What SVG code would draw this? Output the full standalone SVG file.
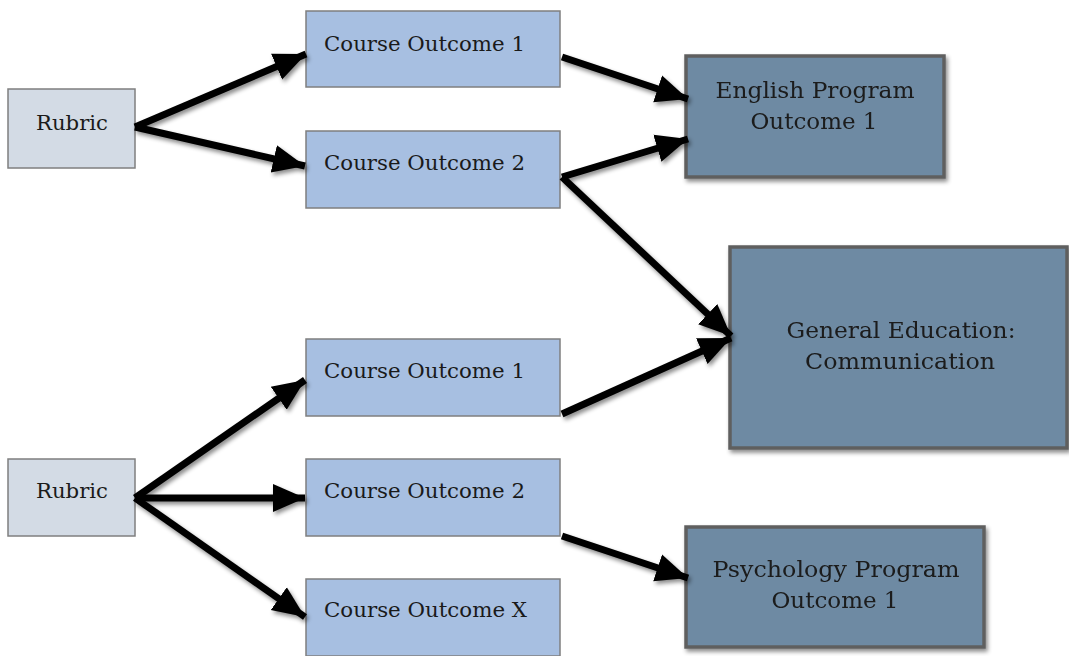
<svg xmlns="http://www.w3.org/2000/svg" width="1069" height="656" viewBox="0 0 1069 656">
<defs>
<style>
.rub{fill:#d3dbe5;stroke:#7f7f7f;stroke-width:1.5}
.co{fill:#a7bfe1;stroke:#7f7f7f;stroke-width:1.5}
.prog{fill:#6e8aa3;stroke:#5f5f5f;stroke-width:3.5}
text{font-family:"DejaVu Serif","Liberation Serif",serif;fill:#1a1a1a}
.t{font-size:20px}
.p{font-size:22px;text-anchor:middle}
.c line{stroke:#000;stroke-width:7;marker-end:url(#ah)}
</style>
<marker id="ah" markerUnits="userSpaceOnUse" markerWidth="34" markerHeight="32" viewBox="0 0 34 32" refX="32" refY="16" orient="auto">
<path d="M0,2 L32,16 L0,30 Z" fill="#000"/>
</marker>
<filter id="sh" x="-20%" y="-20%" width="140%" height="140%">
<feDropShadow dx="2" dy="3" stdDeviation="2" flood-color="#000" flood-opacity="0.45"/>
</filter>
</defs>
<rect width="1069" height="656" fill="#fff"/>
<g id="rubric1"><rect class="rub" x="8" y="89" width="127" height="79"/><text class="t" x="36" y="130" textLength="72" lengthAdjust="spacingAndGlyphs">Rubric</text></g>
<g id="rubric2"><rect class="rub" x="8" y="459" width="127" height="77"/><text class="t" x="36" y="498" textLength="72" lengthAdjust="spacingAndGlyphs">Rubric</text></g>
<g id="co1a"><rect class="co" x="306" y="11" width="254" height="76"/><text class="t" x="324" y="51" textLength="201" lengthAdjust="spacingAndGlyphs">Course Outcome 1</text></g>
<g id="co2a"><rect class="co" x="306" y="131" width="254" height="77"/><text class="t" x="324" y="170" textLength="201" lengthAdjust="spacingAndGlyphs">Course Outcome 2</text></g>
<g id="co1b"><rect class="co" x="306" y="339" width="254" height="77"/><text class="t" x="324" y="378" textLength="201" lengthAdjust="spacingAndGlyphs">Course Outcome 1</text></g>
<g id="co2b"><rect class="co" x="306" y="459" width="254" height="77"/><text class="t" x="324" y="498" textLength="201" lengthAdjust="spacingAndGlyphs">Course Outcome 2</text></g>
<g id="coxb"><rect class="co" x="306" y="579" width="254" height="77"/><text class="t" x="324" y="617" textLength="203" lengthAdjust="spacingAndGlyphs">Course Outcome X</text></g>
<g id="english" filter="url(#sh)"><rect class="prog" x="686" y="56" width="258" height="121"/><text class="p" x="815" y="98" textLength="199" lengthAdjust="spacingAndGlyphs">English Program</text><text class="p" x="814" y="129" textLength="127" lengthAdjust="spacingAndGlyphs">Outcome 1</text></g>
<g id="gened" filter="url(#sh)"><rect class="prog" x="730" y="247" width="337" height="201"/><text class="p" x="901" y="338" textLength="229" lengthAdjust="spacingAndGlyphs">General Education:</text><text class="p" x="900" y="369" textLength="190" lengthAdjust="spacingAndGlyphs">Communication</text></g>
<g id="psych" filter="url(#sh)"><rect class="prog" x="686" y="527" width="298" height="120"/><text class="p" x="836" y="577" textLength="247" lengthAdjust="spacingAndGlyphs">Psychology Program</text><text class="p" x="835" y="608" textLength="127" lengthAdjust="spacingAndGlyphs">Outcome 1</text></g>
<g id="connectors" class="c" filter="url(#sh)">
<line x1="135" y1="127" x2="306" y2="54"/>
<line x1="135" y1="127" x2="305" y2="166"/>
<line x1="562" y1="57" x2="688" y2="99"/>
<line x1="562" y1="177" x2="688" y2="139"/>
<line x1="562" y1="177" x2="731" y2="336"/>
<line x1="562" y1="414" x2="731" y2="338"/>
<line x1="135" y1="498" x2="305" y2="380"/>
<line x1="135" y1="498" x2="305" y2="498"/>
<line x1="135" y1="498" x2="305" y2="617"/>
<line x1="562" y1="536" x2="688" y2="578"/>
</g>
</svg>
